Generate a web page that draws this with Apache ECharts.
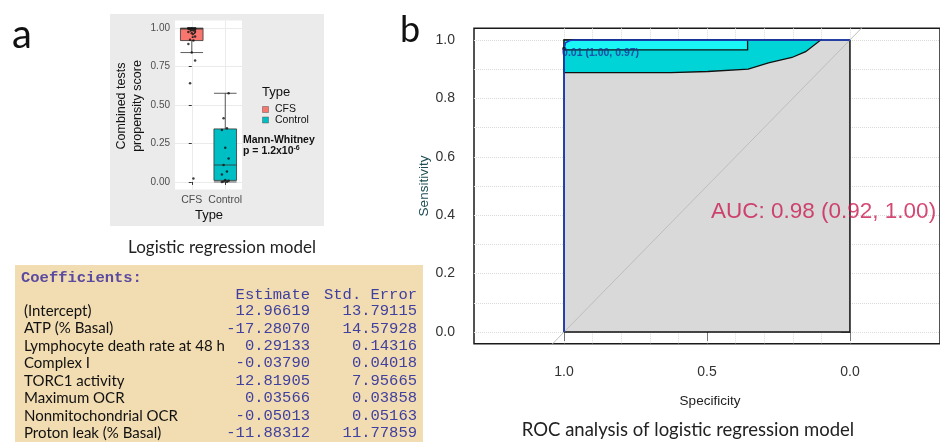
<!DOCTYPE html>
<html><head><meta charset="utf-8">
<script src="https://cdn.jsdelivr.net/npm/echarts@6/dist/echarts.min.js"></script>
<style>html,body{margin:0;padding:0;background:#fff}#c{width:940px;height:442px}</style>
</head><body><div id="c"></div>
<script>
// ---------- Panel a: boxplot data ----------
const groups = ['CFS', 'Control'];
const cfsScores = [1.0, 1.0, 1.0, 1.0, 1.0, 0.999, 0.998, 0.996, 0.993, 0.985, 0.976, 0.967, 0.946, 0.925, 0.92, 0.898, 0.842, 0.79, 0.642, 0.022];
const controlScores = [0.577, 0.414, 0.349, 0.338, 0.223, 0.152, 0.11, 0.067, 0.048, 0.013, 0.007, 0.003, 0.001, 0.0];
const cfsBox = [0.842, 0.92, 0.995, 1.0, 1.0];
const controlBox = [0.0, 0.01, 0.11, 0.345, 0.577];
const boxTicks = [0, 0.25, 0.5, 0.75, 1.0];

// ---------- Coefficients table ----------
const coefNames = ['(Intercept)', 'ATP (% Basal)', 'Lymphocyte death rate at 48 h', 'Complex I', 'TORC1 activity', 'Maximum OCR', 'Nonmitochondrial OCR', 'Proton leak (% Basal)'];
const coefEstimates = ['12.96619', '-17.28070', '0.29133', '-0.03790', '12.81905', '0.03566', '-0.05013', '-11.88312'];
const coefStdErrors = ['13.79115', '14.57928', '0.14316', '0.04018', '7.95665', '0.03858', '0.05163', '11.77859'];

// ---------- Panel b: ROC data ----------
const rocSpec = [1.0, 1.0, 0.995, 0.98, 0.96, 0.0];
const rocSens = [0.0, 0.97, 0.99, 0.998, 1.0, 1.0];
const ciSpec = [1.0, 0.627, 0.497, 0.356, 0.285, 0.203, 0.155, 0.102];
const ciSensLower = [0.888, 0.888, 0.892, 0.9, 0.922, 0.94, 0.96, 1.0];
const ciSensUpper = [1.0, 1.0, 1.0, 1.0, 1.0, 1.0, 1.0, 1.0];
const thrSpecCI = [1.0, 0.358];
const thrSensCI = [0.966, 1.0];
const bestThr = { threshold: '0.01', spec: 1.0, sens: 0.97 };
const aucText = 'AUC: 0.98 (0.92, 1.00)';
const aucPos = [0.5, 0.4];
const chanceLine = [[1.5, -0.5], [-0.5, 1.5]];
const rocXTicks = [0.0, 0.5, 1.0];
const rocYTicks = [0.0, 0.2, 0.4, 0.6, 0.8, 1.0];
const rocGridTicks = [0, 0.1, 0.2, 0.3, 0.4, 0.5, 0.6, 0.7, 0.8, 0.9, 1.0];

const SANS = 'Liberation Sans';
const GOTH = 'Lato';
const MONO = 'Liberation Mono';

const chart = echarts.init(document.getElementById('c'), null, { renderer: 'canvas' });

// deterministic small horizontal spread for the jittered points
const spread = i => (((i * 7) % 5) - 2) * 0.05;
const jitterData = [];
cfsScores.forEach((v, i) => jitterData.push([0 + spread(i), v]));
controlScores.forEach((v, i) => jitterData.push([1 + spread(i + 2), v]));

function polygonSeries(specs, senses, fill, stroke, lw, z) {
  return {
    type: 'custom', xAxisIndex: 2, yAxisIndex: 1, silent: true, clip: true, z: z,
    data: [[0.5, 0.5]],
    renderItem: (params, api) => ({
      type: 'polygon',
      shape: { points: specs.map((s, i) => api.coord([s, senses[i]])) },
      style: { fill: fill, stroke: stroke, lineWidth: lw }
    })
  };
}

const bandSpec = ciSpec.concat(ciSpec.slice().reverse());
const bandSens = ciSensLower.concat(ciSensUpper.slice().reverse());
const rectSpec = [thrSpecCI[0], thrSpecCI[1], thrSpecCI[1], thrSpecCI[0]];
const rectSens = [thrSensCI[0], thrSensCI[0], thrSensCI[1], thrSensCI[1]];
const aucPolySpec = rocSpec.concat([0.0, 1.0]);
const aucPolySens = rocSens.concat([0.0, 0.0]);

const graphics = [
  { type: 'rect', shape: { x: 110, y: 14, width: 214, height: 212 }, style: { fill: '#ebebeb' }, z: -10 },
  { type: 'rect', shape: { x: 15, y: 265, width: 408, height: 180 }, style: { fill: '#f2dcb1' }, z: -10 },
  { type: 'text', x: 22, y: 35, style: { text: 'a', font: '40px ' + GOTH, fill: '#111', align: 'center', verticalAlign: 'middle' } },
  { type: 'text', x: 410, y: 30, style: { text: 'b', font: '36px ' + GOTH, fill: '#111', align: 'center', verticalAlign: 'middle' } },
  { type: 'text', x: 122, y: 106, rotation: Math.PI / 2, style: { text: 'Combined tests', font: '12.5px ' + SANS, fill: '#111', align: 'center', verticalAlign: 'middle' } },
  { type: 'text', x: 138, y: 106, rotation: Math.PI / 2, style: { text: 'propensity score', font: '12.5px ' + SANS, fill: '#111', align: 'center', verticalAlign: 'middle' } },
  { type: 'text', x: 209, y: 215, style: { text: 'Type', font: '13px ' + SANS, fill: '#111', align: 'center', verticalAlign: 'middle' } },
  { type: 'text', x: 193, y: 34, z: 20, style: { text: '?', font: 'bold 13px ' + SANS, fill: '#222', align: 'center', verticalAlign: 'middle' } },
  { type: 'text', x: 262, y: 92, style: { text: 'Type', font: '13px ' + SANS, fill: '#111', align: 'left', verticalAlign: 'middle' } },
  { type: 'rect', shape: { x: 262.5, y: 106.5, width: 6, height: 6 }, style: { fill: '#f8766d', stroke: '#555', lineWidth: 0.5 } },
  { type: 'rect', shape: { x: 262.5, y: 117, width: 6, height: 6 }, style: { fill: '#00bfc4', stroke: '#555', lineWidth: 0.5 } },
  { type: 'text', x: 275, y: 109.5, style: { text: 'CFS', font: '10.5px ' + SANS, fill: '#111', align: 'left', verticalAlign: 'middle' } },
  { type: 'text', x: 275, y: 120, style: { text: 'Control', font: '10.5px ' + SANS, fill: '#111', align: 'left', verticalAlign: 'middle' } },
  { type: 'text', x: 243, y: 140, style: { text: 'Mann-Whitney', font: 'bold 10.5px ' + SANS, fill: '#111', align: 'left', verticalAlign: 'middle' } },
  { type: 'text', x: 243, y: 151, style: { text: '{n|p = 1.2x10}{s|-6}', rich: { n: { font: 'bold 10.5px ' + SANS, fill: '#111' }, s: { font: 'bold 7px ' + SANS, fill: '#111', verticalAlign: 'top', padding: [0, 0, 6, 0] } }, align: 'left', verticalAlign: 'middle' } },
  { type: 'text', x: 222, y: 248, style: { text: 'Logistic regression model', font: '17px ' + GOTH, fill: '#222', align: 'center', verticalAlign: 'middle' } },
  { type: 'text', x: 21, y: 278, style: { text: 'Coefficients:', font: 'bold 15.5px ' + MONO, fill: '#5a4aa0', align: 'left', verticalAlign: 'middle' } },
  { type: 'text', x: 310, y: 294.5, style: { text: 'Estimate', font: '15.5px ' + MONO, fill: '#4040a0', align: 'right', verticalAlign: 'middle' } },
  { type: 'text', x: 417, y: 294.5, style: { text: 'Std. Error', font: '15.5px ' + MONO, fill: '#4040a0', align: 'right', verticalAlign: 'middle' } },
  { type: 'text', x: 424, y: 186, rotation: Math.PI / 2, style: { text: 'Sensitivity', font: '13.5px ' + SANS, fill: '#1d4d52', align: 'center', verticalAlign: 'middle' } },
  { type: 'text', x: 710, y: 401, style: { text: 'Specificity', font: '13.5px ' + SANS, fill: '#222', align: 'center', verticalAlign: 'middle' } },
  { type: 'text', x: 688, y: 430, style: { text: 'ROC analysis of logistic regression model', font: '18.5px ' + GOTH, fill: '#222', align: 'center', verticalAlign: 'middle' } }
];
coefNames.forEach((n, i) => {
  const y = 311 + i * 17.45;
  graphics.push({ type: 'text', x: 24, y: y, style: { text: n, font: '15px ' + GOTH, fill: '#111', align: 'left', verticalAlign: 'middle' } });
  graphics.push({ type: 'text', x: 310, y: y, style: { text: coefEstimates[i], font: '15.5px ' + MONO, fill: '#4040a0', align: 'right', verticalAlign: 'middle' } });
  graphics.push({ type: 'text', x: 417, y: y, style: { text: coefStdErrors[i], font: '15.5px ' + MONO, fill: '#4040a0', align: 'right', verticalAlign: 'middle' } });
});

const option = {
  backgroundColor: '#fff',
  animation: false,
  graphic: graphics,
  grid: [
    { left: 175, top: 20.6, width: 67, height: 169, show: true, backgroundColor: '#fff', borderWidth: 0, containLabel: false },
    { left: 474, top: 28.3, width: 476, height: 315.4, show: true, backgroundColor: 'transparent', borderColor: '#1a1a1a', borderWidth: 1.5, containLabel: false }
  ],
  xAxis: [
    { gridIndex: 0, type: 'category', data: groups, axisLine: { show: false },
      axisTick: { show: true, alignWithLabel: true, length: 3, lineStyle: { color: '#333' } },
      axisLabel: { interval: 0, hideOverlap: false, margin: 5, fontSize: 10.5, color: '#4d4d4d', fontFamily: SANS }, splitLine: { show: false } },
    { gridIndex: 0, type: 'value', min: -0.5, max: 1.5, show: true, axisLine: { show: false },
      axisTick: { show: false, customValues: [0, 1] }, axisLabel: { show: false },
      splitLine: { show: true, lineStyle: { color: '#ebebeb', width: 1 } } },
    { gridIndex: 1, type: 'value', min: -0.315, max: 1.315, inverse: true, position: 'bottom', axisLine: { show: false },
      axisTick: { show: true, customValues: rocXTicks, length: 9, lineStyle: { color: '#777' } },
      axisLabel: { customValues: rocXTicks, formatter: v => v.toFixed(1), margin: 21, fontSize: 14, color: '#333', fontFamily: SANS },
      splitLine: { show: false } },
    { gridIndex: 1, type: 'value', min: -0.315, max: 1.315, inverse: true, axisLine: { show: false },
      axisTick: { show: false, customValues: rocGridTicks }, axisLabel: { show: false },
      splitLine: { show: true, lineStyle: { color: '#dadada', type: 'dotted', width: 1 } } }
  ],
  yAxis: [
    { gridIndex: 0, type: 'value', min: -0.05, max: 1.05, axisLine: { show: false },
      axisTick: { show: true, customValues: boxTicks, length: 3, lineStyle: { color: '#333' } },
      axisLabel: { customValues: boxTicks, formatter: v => v.toFixed(2), margin: 5, fontSize: 10, color: '#4d4d4d', fontFamily: SANS },
      splitLine: { show: true, lineStyle: { color: '#ebebeb', width: 1 } } },
    { gridIndex: 1, type: 'value', min: -0.04, max: 1.04, axisLine: { show: false },
      axisTick: { show: true, customValues: rocYTicks, length: 9, lineStyle: { color: '#777' } },
      axisLabel: { customValues: rocYTicks, formatter: v => v.toFixed(1), margin: 19, fontSize: 14, color: '#333', fontFamily: SANS },
      splitLine: { show: false } },
    { gridIndex: 1, type: 'value', min: -0.04, max: 1.04, axisLine: { show: false },
      axisTick: { show: false, customValues: rocGridTicks }, axisLabel: { show: false },
      splitLine: { show: true, lineStyle: { color: '#dadada', type: 'dotted', width: 1 } } }
  ],
  series: [
    { type: 'boxplot', xAxisIndex: 0, yAxisIndex: 0, boxWidth: [22.6, 22.6], silent: true, z: 3,
      itemStyle: { borderColor: '#333', borderWidth: 0.8 },
      data: [
        { value: cfsBox, itemStyle: { color: '#f8766d' } },
        { value: controlBox, itemStyle: { color: '#00bfc4' } }
      ] },
    { type: 'scatter', xAxisIndex: 1, yAxisIndex: 0, symbolSize: 2.5, itemStyle: { color: '#111' }, silent: true, z: 5,
      data: jitterData },
    polygonSeries(aucPolySpec, aucPolySens, '#d9d9d9', '#111', 1.5, 2),
    { type: 'line', xAxisIndex: 2, yAxisIndex: 1, data: chanceLine, symbol: 'none', silent: true, clip: true, z: 3,
      lineStyle: { color: '#bdbdbd', width: 1 } },
    polygonSeries(bandSpec, bandSens, '#00d4d6', '#111', 1.3, 4),
    polygonSeries(rectSpec, rectSens, '#1af5f5', '#111', 1.3, 5),
    { type: 'line', xAxisIndex: 2, yAxisIndex: 1, data: rocSpec.map((s, i) => [s, rocSens[i]]), symbol: 'none', silent: true, z: 6,
      lineStyle: { color: '#1c3fc4', width: 1.6 } },
    { type: 'scatter', xAxisIndex: 2, yAxisIndex: 1, symbolSize: 4, silent: true, z: 7, itemStyle: { color: '#111' },
      data: [[bestThr.spec, bestThr.sens]],
      label: { show: true, position: [0, 1], align: 'left', verticalAlign: 'top',
        formatter: () => bestThr.threshold + ' (' + bestThr.spec.toFixed(2) + ', ' + bestThr.sens.toFixed(2) + ')',
        fontSize: 10.5, fontWeight: 'bold', color: '#1a2f9a', fontFamily: SANS } },
    { type: 'scatter', xAxisIndex: 2, yAxisIndex: 1, symbolSize: 0, silent: true, z: 8,
      data: [aucPos],
      label: { show: true, position: 'right', distance: 4, offset: [0, -3], formatter: () => aucText,
        fontSize: 22.5, color: '#c91a50', fontFamily: SANS } }
  ]
};
chart.setOption(option);
</script>
</body></html>
